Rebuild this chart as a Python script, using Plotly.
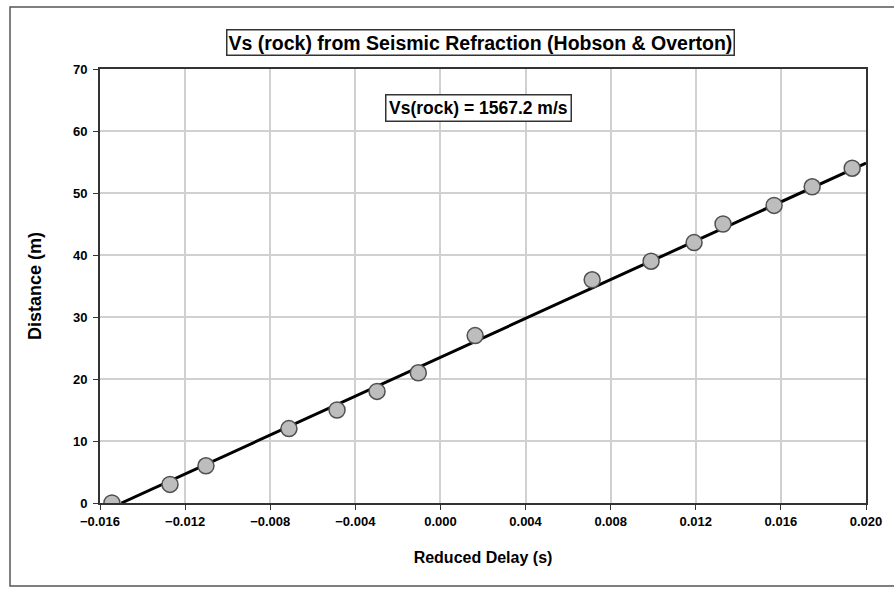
import numpy as np
import plotly.graph_objects as go

# Reduced delay (s) and source-receiver distance (m)
reduced_delay = [-0.01544, -0.01271, -0.01102, -0.00712, -0.00486, -0.00298, -0.00104,
                 0.00163, 0.00713, 0.00990, 0.01192, 0.01328, 0.01568, 0.01747, 0.01935]
distance = [0, 3, 6, 12, 15, 18, 21, 27, 36, 39, 42, 45, 48, 51, 54]

vs_rock = 1567.2  # m/s, slope of the distance vs reduced-delay line
x_range = [-0.016, 0.020]
y_range = [0, 70]
x_ticks = [-0.016, -0.012, -0.008, -0.004, 0.000, 0.004, 0.008, 0.012, 0.016, 0.020]
y_ticks = [0, 10, 20, 30, 40, 50, 60, 70]

title_text = "Vs (rock) from Seismic Refraction (Hobson & Overton)"
label_text = f"Vs(rock) = {vs_rock:.1f} m/s"

# line with the fixed slope, intercept by least squares
xd = np.array(reduced_delay)
yd = np.array(distance)
intercept = float(yd.mean() - vs_rock * xd.mean())
line_x = [-intercept / vs_rock, x_range[1]]
line_y = [vs_rock * x + intercept for x in line_x]

W, H = 894, 590
ml, mr, mt, mb = 100, 28, 69, 87
pw, ph = W - ml - mr, H - mt - mb

def px(x):
    return (x - ml) / pw

def py(y):
    return (H - mb - y) / ph

font_main = "Liberation Sans, Arial, sans-serif"

fig = go.Figure()
fig.add_trace(go.Scatter(
    x=reduced_delay, y=distance, mode="markers",
    marker=dict(size=16, color="#bdbdbd", line=dict(color="#505050", width=1.5)),
    showlegend=False))

# fitted line in data coordinates, drawn beneath the markers
fig.add_shape(type="line", xref="x", yref="y",
              x0=line_x[0], y0=line_y[0], x1=line_x[1], y1=line_y[1],
              line=dict(color="black", width=3), layer="between")

axis_common = dict(
    showline=True, linecolor="#333333", linewidth=2, mirror=True,
    showgrid=True, gridcolor="#d0d0d0", gridwidth=1.5,
    ticks="outside", ticklen=5, tickcolor="#333333", tickwidth=1,
    zeroline=False,
    tickfont=dict(family=font_main, size=13, color="black", weight="bold"),
)

fig.update_xaxes(
    range=x_range, tickvals=x_ticks, tickformat=".3f",
    title=dict(text="<b>Reduced Delay (s)</b>", standoff=24,
               font=dict(family=font_main, size=16, color="black")),
    **axis_common)
fig.update_yaxes(
    range=y_range, tickvals=y_ticks, ticklabelstandoff=3,
    title=dict(text="<b>Distance (m)</b>", standoff=27,
               font=dict(family=font_main, size=18, color="black")),
    **axis_common)

fig.add_annotation(
    x=px(480), y=py(42.5), xref="paper", yref="paper", showarrow=False,
    xanchor="center", yanchor="middle",
    text="<b>" + title_text + "</b>",
    font=dict(family=font_main, size=19.5, color="black"),
    bordercolor="#333333", borderwidth=1.5, borderpad=1, bgcolor="white")
fig.add_annotation(
    x=px(478), y=py(108), xref="paper", yref="paper", showarrow=False,
    xanchor="center", yanchor="middle",
    text="<b>" + label_text + "</b>",
    font=dict(family=font_main, size=17.5, color="black"),
    bordercolor="#333333", borderwidth=1.5, borderpad=2.5, bgcolor="white")

# outer chart frame
fig.add_shape(type="rect", xref="paper", yref="paper",
              x0=px(10), x1=px(905), y0=py(586), y1=py(7),
              line=dict(color="#555555", width=1.5), layer="below")

fig.update_layout(
    width=W, height=H,
    margin=dict(l=ml, r=mr, t=mt, b=mb),
    paper_bgcolor="white", plot_bgcolor="white",
    font=dict(family=font_main, color="black"),
)

fig.write_html("out.html")
